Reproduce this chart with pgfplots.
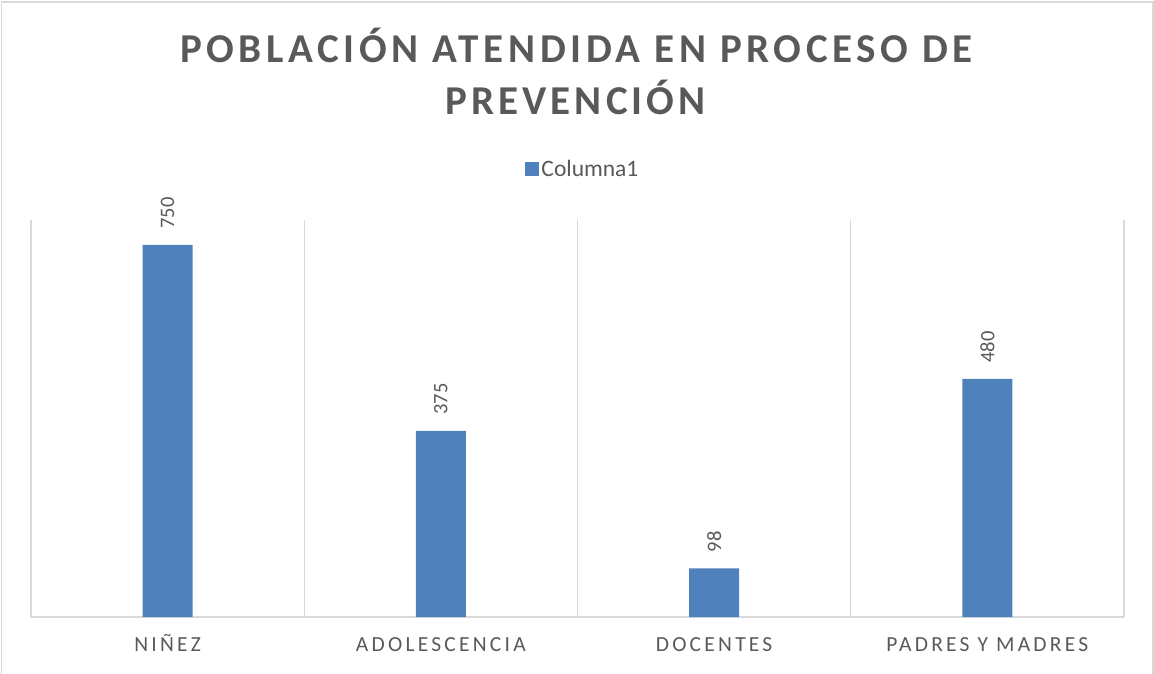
\documentclass[border=0pt]{standalone}
\usepackage{pgfplots}
\pgfplotsset{compat=1.18}
\usepackage{fontspec}
\setmainfont{Carlito}
\definecolor{txt}{HTML}{595959}
\definecolor{barblue}{HTML}{4F81BD}
\definecolor{gridc}{HTML}{D9D9D9}
\begin{document}
\begin{tikzpicture}[x=1pt,y=1pt]
\useasboundingbox (-31,-56) rectangle (1123,617);
\draw[gridc, line width=1.5pt] (-29.5,-60) -- (-29.5,615) -- (1122,615) -- (1122,-60);
\begin{axis}[
  at={(0pt,0pt)}, anchor=south west,
  scale only axis, width=1093pt, height=397pt,
  xmin=-0.5, xmax=3.5, ymin=0, ymax=800,
  clip=false,
  /pgf/number format/assume math mode=true,
  axis x line=bottom, axis y line=none,
  x axis line style={-, draw=gridc, line width=1.5pt},
  xtick={0,1,2,3},
  xticklabels={NIÑEZ,ADOLESCENCIA,DOCENTES,PADRES Y MADRES},
  xticklabel style={font=\fontsize{21.5}{24}\selectfont\addfontfeatures{LetterSpace=15}, text=txt, anchor=base, yshift=-34pt},
  major tick length=0pt,
  minor xtick={-0.5,0.5,1.5,2.5,3.5},
  minor tick length=0pt,
  xminorgrids,
  minor grid style={draw=gridc, line width=1.3pt},
  ytick=\empty,
  legend style={at={(0.505,1.128)}, anchor=center, draw=none, fill=none,
    font=\fontsize{23.5}{26}\selectfont, text=txt, inner sep=0pt},
]
\addplot[ybar, bar width=50pt, fill=barblue, draw=none,
  legend image code/.code={\fill[barblue] (-3pt,-7pt) rectangle (11pt,7pt);},
  nodes near coords,
  every node near coord/.append style={rotate=90, anchor=west, inner sep=0pt, xshift=16pt,
    font=\fontsize{20.5}{24}\selectfont, text=txt}
] coordinates {(0,750) (1,375) (2,98) (3,480)};
\addlegendentry{Columna1}
\end{axis}
\node[anchor=base, text=txt, font=\fontsize{41}{50}\bfseries\addfontfeatures{LetterSpace=11.3}] at (545.5,554) {POBLACIÓN ATENDIDA EN PROCESO DE};
\node[anchor=base, text=txt, font=\fontsize{41}{50}\bfseries\addfontfeatures{LetterSpace=10}] at (544.5,502) {PREVENCIÓN};
\end{tikzpicture}
\end{document}
